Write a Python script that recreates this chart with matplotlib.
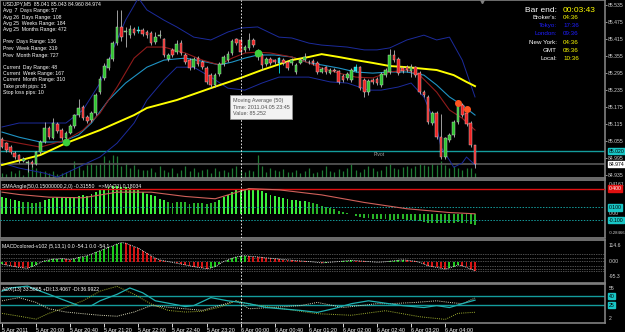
import matplotlib
matplotlib.use("Agg")
import matplotlib.pyplot as plt
import numpy as np

W, H = 625, 332

# ---- USDJPY M5, 5 Apr 2011 19:20 .. 6 Apr 04:35 ----
opens = [85.062, 85.048, 85.034, 85.013, 85.006, 84.985, 84.978, 84.981, 84.974, 85.016,
         85.052, 85.101, 85.066, 85.115, 85.094, 85.066, 85.084, 85.108, 85.147, 85.175,
         85.140, 85.129, 85.154, 85.228, 85.278, 85.313, 85.345, 85.401, 85.458, 85.440,
         85.429, 85.451, 85.444, 85.447, 85.440, 85.437, 85.405, 85.426, 85.415, 85.345,
         85.377, 85.369, 85.401, 85.359, 85.341, 85.316, 85.348, 85.334, 85.313, 85.288,
         85.253, 85.292, 85.327, 85.341, 85.366, 85.415, 85.412, 85.377, 85.384, 85.412,
         85.352, 85.359, 85.327, 85.345, 85.341, 85.348, 85.341, 85.334, 85.331, 85.299,
         85.331, 85.341, 85.334, 85.338, 85.331, 85.299, 85.316, 85.295, 85.306, 85.302,
         85.285, 85.278, 85.271, 85.302, 85.316, 85.271, 85.228, 85.271, 85.274, 85.253,
         85.288, 85.299, 85.359, 85.345, 85.313, 85.316, 85.302, 85.316, 85.295, 85.228,
         85.211, 85.119, 85.154, 85.069, 84.999, 85.059, 85.077, 85.122, 85.182, 85.154,
         85.119, 85.041]
closes = [85.034, 85.024, 85.016, 84.999, 84.988, 84.992, 84.981, 84.974, 85.016, 85.052,
          85.101, 85.069, 85.119, 85.091, 85.066, 85.084, 85.108, 85.147, 85.172, 85.136,
          85.126, 85.154, 85.218, 85.274, 85.320, 85.345, 85.401, 85.458, 85.422, 85.444,
          85.451, 85.437, 85.447, 85.433, 85.429, 85.401, 85.422, 85.429, 85.359, 85.359,
          85.359, 85.398, 85.366, 85.334, 85.313, 85.345, 85.327, 85.316, 85.264, 85.253,
          85.288, 85.327, 85.352, 85.362, 85.408, 85.401, 85.369, 85.387, 85.412, 85.394,
          85.369, 85.324, 85.345, 85.331, 85.334, 85.331, 85.331, 85.313, 85.341, 85.324,
          85.341, 85.352, 85.334, 85.331, 85.299, 85.309, 85.299, 85.306, 85.304, 85.264,
          85.271, 85.292, 85.306, 85.316, 85.242, 85.228, 85.267, 85.264, 85.260, 85.292,
          85.306, 85.359, 85.341, 85.295, 85.302, 85.306, 85.316, 85.288, 85.228, 85.218,
          85.122, 85.154, 85.069, 84.999, 85.066, 85.077, 85.122, 85.182, 85.147, 85.115,
          85.041, 84.974]
highs = [85.070, 85.052, 85.040, 85.020, 85.010, 85.000, 84.990, 84.988, 85.020, 85.058,
         85.122, 85.108, 85.136, 85.122, 85.101, 85.090, 85.115, 85.152, 85.204, 85.182,
         85.147, 85.160, 85.225, 85.285, 85.330, 85.352, 85.410, 85.518, 85.518, 85.458,
         85.465, 85.458, 85.460, 85.455, 85.447, 85.444, 85.440, 85.447, 85.420, 85.365,
         85.384, 85.412, 85.412, 85.365, 85.348, 85.352, 85.355, 85.341, 85.320, 85.295,
         85.295, 85.334, 85.359, 85.373, 85.415, 85.420, 85.418, 85.394, 85.437, 85.420,
         85.380, 85.366, 85.352, 85.352, 85.345, 85.352, 85.348, 85.341, 85.348, 85.331,
         85.348, 85.366, 85.341, 85.345, 85.338, 85.316, 85.320, 85.313, 85.313, 85.306,
         85.292, 85.299, 85.313, 85.327, 85.320, 85.278, 85.274, 85.278, 85.281, 85.299,
         85.313, 85.380, 85.377, 85.352, 85.320, 85.324, 85.327, 85.320, 85.302, 85.235,
         85.218, 85.160, 85.160, 85.150, 85.070, 85.084, 85.129, 85.200, 85.190, 85.160,
         85.126, 85.043]
lows = [85.030, 85.018, 85.008, 84.992, 84.978, 84.980, 84.946, 84.965, 84.970, 85.010,
        85.048, 85.062, 85.062, 85.084, 85.059, 85.060, 85.080, 85.101, 85.140, 85.129,
        85.119, 85.122, 85.147, 85.221, 85.270, 85.306, 85.338, 85.394, 85.410, 85.387,
        85.420, 85.430, 85.437, 85.425, 85.420, 85.394, 85.398, 85.418, 85.352, 85.338,
        85.352, 85.362, 85.359, 85.327, 85.306, 85.309, 85.320, 85.309, 85.256, 85.242,
        85.246, 85.285, 85.320, 85.334, 85.359, 85.394, 85.362, 85.369, 85.377, 85.387,
        85.341, 85.306, 85.320, 85.324, 85.327, 85.295, 85.324, 85.306, 85.324, 85.292,
        85.327, 85.338, 85.327, 85.324, 85.292, 85.295, 85.292, 85.292, 85.299, 85.256,
        85.264, 85.271, 85.264, 85.299, 85.235, 85.211, 85.218, 85.256, 85.253, 85.246,
        85.281, 85.292, 85.334, 85.288, 85.295, 85.299, 85.280, 85.281, 85.221, 85.211,
        85.115, 85.112, 85.062, 84.992, 84.992, 85.052, 85.070, 85.115, 85.140, 85.108,
        85.034, 84.960]
# tick volume (relative)
volumes = [5, 4, 7, 5, 8, 3, 10, 13, 10, 7, 7, 5, 7, 4, 5, 6, 8, 17, 12, 8,
           13, 15, 13, 15, 22, 18, 23, 22, 12, 15, 10, 13, 9, 8,
           8, 10, 6, 12, 8, 6, 10, 5, 8, 12, 7, 10, 6, 8, 9, 5,
           10, 7, 8, 6, 10, 12, 8, 6, 8, 7, 23, 12, 6, 10, 8, 7, 9, 6,
           6, 8, 5, 7, 10, 5, 6, 8, 12, 7, 6, 9, 7, 10, 14, 8, 6, 9,
           12, 10, 7, 8, 12, 14, 10, 9, 11, 12, 10, 12, 14, 13, 12, 15,
           13, 17, 13, 10, 12, 10, 8, 10, 10, 5]
cyan_bars = [32, 65, 83]

# moving averages / bands, read at sample bars
ma50_x = [0, 9, 15, 23, 31, 34, 41, 49, 56, 61, 68, 72, 75, 79, 83, 87, 91, 95, 102, 106, 109, 111]
ma50_y = [84.971, 85.006, 85.048, 85.094, 85.147, 85.172, 85.200, 85.242, 85.278, 85.306, 85.341,
          85.352, 85.362, 85.352, 85.341, 85.331, 85.320, 85.316, 85.306, 85.288, 85.264, 85.249]
ma21_x = [0, 4, 9, 14, 18, 21, 25, 29, 34, 38, 43, 48, 51, 54, 57, 60, 64, 68, 72, 75, 79, 83,
          87, 91, 95, 99, 102, 105, 108, 111]
ma21_y = [85.087, 85.069, 85.052, 85.052, 85.077, 85.119, 85.200, 85.260, 85.316, 85.341, 85.348,
          85.334, 85.324, 85.334, 85.348, 85.359, 85.359, 85.352, 85.331, 85.324, 85.313, 85.299,
          85.295, 85.299, 85.299, 85.288, 85.253, 85.211, 85.182, 85.147]
ma10_x = [0, 9, 15, 19, 23, 27, 31, 34, 38, 43, 47, 51, 54, 57, 60, 63, 68, 72, 75, 79, 83, 87,
          91, 95, 98, 102, 105, 108, 111]
ma10_y = [85.059, 85.034, 85.059, 85.094, 85.154, 85.246, 85.348, 85.387, 85.387, 85.366, 85.341,
          85.324, 85.348, 85.366, 85.369, 85.366, 85.352, 85.331, 85.313, 85.295, 85.281, 85.278,
          85.299, 85.306, 85.288, 85.228, 85.165, 85.136, 85.094]
bb_up_x = [0, 4, 10, 15, 19, 23, 26, 29, 32, 34, 38, 41, 45, 49, 53, 56, 60, 65, 68, 72, 75, 81,
           85, 88, 91, 95, 99, 102, 105, 108, 111]
bb_up_y = [85.105, 85.119, 85.119, 85.119, 85.165, 85.260, 85.377, 85.482, 85.560, 85.518, 85.482,
           85.458, 85.422, 85.412, 85.440, 85.454, 85.458, 85.422, 85.419, 85.401, 85.394, 85.387,
           85.377, 85.377, 85.384, 85.412, 85.429, 85.412, 85.422, 85.341, 85.211]
bb_lo_x = [0, 4, 10, 13, 15, 20, 23, 27, 31, 34, 38, 41, 45, 49, 53, 57, 61, 65, 68, 72, 77, 81,
           86, 89, 93, 96, 99, 102, 103, 105, 106, 108, 109, 111]
bb_lo_y = [84.978, 84.960, 84.942, 84.928, 84.942, 84.978, 84.999, 85.048, 85.119, 85.200, 85.271,
           85.316, 85.316, 85.281, 85.242, 85.235, 85.260, 85.281, 85.281, 85.281, 85.264, 85.260,
           85.235, 85.235, 85.246, 85.260, 85.211, 85.105, 85.034, 84.988, 84.963, 84.978, 84.999,
           84.971]
pivot = 85.020
bid = 84.974
green_dots = [(15, 85.052), (60, 85.366)]
orange_dots = [(107, 85.190), (109, 85.168)]
price_ticks = [85.535, 85.475, 85.415, 85.355, 85.295, 85.235, 85.175, 85.115, 85.055, 84.995, 84.935]

# SMAAngle histogram and its MA(21)
angle = [0.264, 0.253, 0.237, 0.211, 0.200, 0.184, 0.184, 0.169, 0.174, 0.184,
         0.211, 0.237, 0.253, 0.264, 0.264, 0.253, 0.248, 0.264, 0.290, 0.301,
         0.290, 0.317, 0.343, 0.370, 0.396, 0.423, 0.433, 0.433, 0.423, 0.423,
         0.412, 0.396, 0.370, 0.343, 0.317, 0.306, 0.275, 0.237, 0.211, 0.184,
         0.174, 0.195, 0.184, 0.184, 0.158, 0.169, 0.174, 0.169, 0.158, 0.174,
         0.184, 0.211, 0.264, 0.306, 0.343, 0.370, 0.396, 0.396, 0.412, 0.400,
         0.380, 0.360, 0.330, 0.300, 0.280, 0.260, 0.250, 0.240, 0.220, 0.220,
         0.210, 0.200, 0.190, 0.170, 0.150, 0.130, 0.110, 0.090, 0.070, 0.050,
         0.030, 0.010, -0.010, -0.030, -0.050, -0.060, -0.070, -0.080, -0.080, -0.090,
         -0.090, -0.100, -0.100, -0.090, -0.090, -0.100, -0.100, -0.110, -0.120, -0.130,
         -0.140, -0.140, -0.150, -0.150, -0.150, -0.140, -0.140, -0.130, -0.140, -0.150,
         -0.160, -0.170]
angle_ma_x = [0, 4, 11, 19, 27, 35, 43, 50, 58, 65, 75, 85, 95, 105, 111]
angle_ma_y = [0.343, 0.306, 0.264, 0.254, 0.343, 0.343, 0.275, 0.238, 0.400, 0.380, 0.300, 0.180,
              0.080, 0.020, 0.000]

# MACD (5,13,1)
macd = [-15, -20, -25, -30, -35, -38, -40, -30, -20, -5,
        5, 10, 15, 15, 18, 15, 12, 18, 25, 30,
        35, 45, 55, 65, 75, 85, 95, 105, 114, 110,
        100, 90, 80, 65, 50, 35, 20, 10, 5, 0,
        -5, -10, -15, -20, -25, -30, -35, -38, -42, -38,
        -30, -15, 0, 10, 20, 28, 32, 35, 32, 30,
        28, 25, 22, 20, 18, 15, 12, 10, 8, 6,
        4, 2, 0, -2, -5, -8, -6, -4, -2, 0,
        3, 5, 8, 6, 4, 2, 0, -2, -4, -3,
        -1, 2, 5, 8, 10, 8, 5, 2, -5, -15,
        -25, -30, -35, -40, -45, -38, -30, -20, -25, -35,
        -45, -54.1]
macd_levels = [48, 24, 6, -24, -42, -54]

# ADX(13) with +DI / -DI, read at sample bars
adx_x = [0, 2, 6, 7, 11, 15, 18, 21, 23, 27, 30, 33, 36, 40, 43, 45, 49, 53, 56, 58, 62, 70, 74,
         78, 82, 86, 94, 99, 102, 105, 108, 111]
adx_y = [48.6, 53.9, 57.0, 53.9, 43.3, 32.5, 24.5, 24.5, 32.5, 43.3, 53.9, 45.9, 32.5, 27.2, 22.9,
         24.5, 37.8, 32.5, 29.8, 27.7, 21.3, 16.5, 13.2, 19.7, 27.7, 32.5, 24.5, 21.3, 24.5, 21.3,
         27.7, 33.6]
pdi_x = [0, 5, 8, 11, 15, 19, 23, 27, 31, 35, 39, 43, 47, 51, 55, 58, 66, 74, 82, 90, 98, 104,
         107, 111]
pdi_y = [11.6, 5.7, 2.0, 11.6, 21.8, 32.5, 48.6, 56.6, 43.3, 27.2, 16.5, 13.8, 15.0, 21.8, 32.5,
         27.2, 19.2, 11.0, 8.4, 16.0, 6.0, 1.5, 11.6, 13.4]
mdi_x = [0, 4, 8, 11, 15, 19, 23, 27, 31, 35, 39, 43, 47, 51, 55, 58, 63, 70, 74, 80, 88, 91, 97,
         102, 105, 108, 111]
mdi_y = [32.5, 37.8, 29.8, 19.2, 13.8, 11.0, 8.4, 6.8, 13.8, 24.5, 21.8, 19.2, 16.5, 24.5, 32.5,
         19.2, 21.3, 24.5, 29.8, 21.3, 27.7, 27.7, 29.8, 32.5, 29.8, 27.7, 37.0]
adx_levels = [40, 25]

time_bars = [0, 8, 16, 24, 32, 40, 48, 56, 64, 72, 80, 88, 96, 104]
time_labels = ["5 Apr 2011", "5 Apr 20:00", "5 Apr 20:40", "5 Apr 21:20", "5 Apr 22:00",
               "5 Apr 22:40", "5 Apr 23:20", "6 Apr 00:00", "6 Apr 00:40", "6 Apr 01:20",
               "6 Apr 02:00", "6 Apr 02:40", "6 Apr 03:20", "6 Apr 04:00"]
cursor_bar = 56

plt.rcParams["font.family"] = ["Liberation Sans", "DejaVu Sans"]
GREY = "#808080"
FS = 3.7


def frac(x0, y0, x1, y1):
    return [x0 / W, 1 - y1 / H, (x1 - x0) / W, (y1 - y0) / H]


def ptext(x, y, s, **kw):
    kw.setdefault("fontsize", FS)
    kw.setdefault("color", "white")
    kw.setdefault("va", "center")
    fig.text(x / W, 1 - y / H, s, **kw)


def style(a):
    a.set_facecolor("black")
    for sp in a.spines.values():
        sp.set_color(GREY)
        sp.set_linewidth(1.2)
    a.yaxis.tick_right()
    a.tick_params(axis="y", colors="#d0d0d0", labelsize=FS, length=1.5, width=0.5, pad=0.8)
    a.tick_params(axis="x", bottom=False, labelbottom=False)
    a.set_xlim(-0.47, 141.5)


def side(a, y, s, yaxis=True, **kw):
    tr = a.get_yaxis_transform() if yaxis else a.transAxes
    kw.setdefault("va", "center")
    kw.setdefault("fontsize", FS)
    a.text(1.006, y, s, transform=tr, color="#d0d0d0", ha="left", **kw)


def right_box(a, y, s, fc, tc="black"):
    a.text(1.006, y, s, transform=a.get_yaxis_transform(), fontsize=FS, color=tc,
           va="center", ha="left", bbox=dict(boxstyle="square,pad=0.12", fc=fc, ec=fc))


fig = plt.figure(figsize=(W / 100, H / 100), dpi=100, facecolor="black")
ax = fig.add_axes(frac(0, 0, 605, 178))
ax_sma = fig.add_axes(frac(0, 179.5, 605, 237.5))
ax_macd = fig.add_axes(frac(0, 239.5, 605, 282.5))
ax_adx = fig.add_axes(frac(0, 284, 605, 323))
for a in (ax, ax_sma, ax_macd, ax_adx):
    style(a)

# ---- main price panel ----
x = np.arange(len(closes))
o = np.array(opens)
c = np.array(closes)
ax.set_ylim(84.925, 85.553)
ax.set_yticks(price_ticks)
ax.set_yticklabels(["%.3f" % p for p in price_ticks])

ax.vlines(x, 0, np.array(volumes) / 178.0, transform=ax.get_xaxis_transform(),
          color="#1f7a34", lw=0.9, zorder=1)
ax.axhline(pivot, color="#149c9c", lw=1.0, zorder=2)
ax.axhline(bid, color="#5a5a5a", lw=1.2, zorder=2)
ax.text(88.5, pivot - 0.004, "Pivot", color="#a0a0a0", fontsize=3.6, va="top", ha="center")

ax.plot(bb_up_x, bb_up_y, color="#1c2b9c", lw=0.7, zorder=3)
ax.plot(bb_lo_x, bb_lo_y, color="#1c2b9c", lw=0.7, zorder=3)
ax.plot(ma21_x, ma21_y, color="#1f93c4", lw=0.8, zorder=3)
ax.plot(ma10_x, ma10_y, color="#8f1b1b", lw=0.8, zorder=3)
ax.plot(ma50_x, ma50_y, color="#ffff00", lw=1.4, zorder=4)

wick_col = ["#00e5e5" if i in cyan_bars else "#b8b8b8" for i in x]
ax.vlines(x, lows, highs, color=wick_col, lw=0.6, zorder=5)
up = c >= o
body_h = np.maximum(np.abs(c - o), 0.0015)
body_col = np.where(up, "#2dc42d", "#ee2020")
body_col = ["#00e5e5" if i in cyan_bars else body_col[i] for i in x]
ax.bar(x, body_h, bottom=np.minimum(o, c), width=0.62, color=body_col,
       edgecolor="#d8d8d8", linewidth=0.3, zorder=6)

for bx, by in green_dots:
    ax.plot(bx, by, "o", ms=4.5, color="#3ccf3c", zorder=7)
for bx, by in orange_dots:
    ax.plot(bx, by, "o", ms=4.0, color="#ff5520", zorder=7)
ax.plot(112.7, 85.548, "v", ms=3, color=GREY, zorder=7)

right_box(ax, pivot, "%.3f" % pivot, "#19c6c6")
right_box(ax, bid, "%.3f" % bid, "white")

# ---- SMAAngle panel ----
ax_sma.set_ylim(-0.376, 0.544)
ax_sma.set_yticks([])
ang = np.array(angle)
sma_col = np.where(ang >= 0.2, "#3cf03c", "#28b428")
ax_sma.bar(x, ang, width=0.45, color=sma_col, zorder=2)
ax_sma.axhline(0.4, color="#e01010", lw=1.0, zorder=3)
ax_sma.axhline(0.1, color="#149c9c", lw=0.7, ls=(0, (1.5, 1.5)), zorder=3)
ax_sma.axhline(-0.1, color="#149c9c", lw=0.7, ls=(0, (1.5, 1.5)), zorder=3)
ax_sma.plot(angle_ma_x, angle_ma_y, color="#d0605a", lw=0.8, zorder=4)
ax_sma.text(0.004, 0.92, "SMAAngle(50,0.15000000,2,0) -0.31550   =>MA(21) 0.18034",
            transform=ax_sma.transAxes, color="white", fontsize=FS, va="top")
side(ax_sma, 0.96, "0.4161", yaxis=False, va="top")
side(ax_sma, 0.0, "0.00")
side(ax_sma, 0.05, "-0.28466", yaxis=False, va="bottom", fontsize=3.1)
right_box(ax_sma, 0.4, "0.400", "#e01010", "white")
right_box(ax_sma, 0.1, "0.100", "#19c6c6")
right_box(ax_sma, -0.1, "-0.100", "#19c6c6")

# ---- MACD panel ----
ax_macd.set_ylim(-125, 132)
ax_macd.set_yticks([])
m = np.array(macd)
rising = np.diff(np.concatenate([[m[0]], m])) >= 0
ax_macd.bar(x, m, width=0.45, color=np.where(rising, "#1ec81e", "#d41414"), zorder=2)
for lv in macd_levels:
    ax_macd.axhline(lv, color="#9a9a9a", lw=0.5, ls=(0, (1, 1.5)), zorder=1)
ax_macd.plot(x, m, color="white", lw=0.6, ls=(0, (1, 1.2)), zorder=3)
ax_macd.text(0.004, 0.9, "MACDcolored-v102 (5,13,1) 0.0 -54.1 0.0 -54.1",
             transform=ax_macd.transAxes, color="white", fontsize=FS, va="top")
side(ax_macd, 0.93, "114.6", yaxis=False, va="top")
side(ax_macd, 0.08, "-95.3", yaxis=False, va="bottom")
side(ax_macd, 0, "0.00")

# ---- ADX panel ----
ax_adx.set_ylim(-4.5, 60.5)
ax_adx.set_yticks([])
for lv in adx_levels:
    ax_adx.axhline(lv, color="#149c9c", lw=1.0, zorder=1)
    right_box(ax_adx, lv, str(lv), "#19c6c6")
ax_adx.plot(pdi_x, pdi_y, color="#a0b030", lw=0.7, ls=(0, (1, 1.2)), zorder=2)
ax_adx.plot(mdi_x, mdi_y, color="#d8d8b8", lw=0.7, ls=(0, (1, 1.2)), zorder=2)
ax_adx.plot(adx_x, adx_y, color="#1fb0b0", lw=0.9, zorder=3)
ax_adx.text(0.004, 0.93, "ADX(13) 33.5865 +DI:13.4067 -DI:36.9922",
            transform=ax_adx.transAxes, color="white", fontsize=FS, va="top")
side(ax_adx, 0.95, "55", yaxis=False, va="top")
side(ax_adx, 0.05, "2", yaxis=False, va="bottom")
ax_adx.set_xticks(time_bars)
ax_adx.set_xticklabels(time_labels)
ax_adx.tick_params(axis="x", bottom=True, labelbottom=True, colors="white", labelsize=3.9,
                   length=3, width=0.6, pad=0.5)
for lbl in ax_adx.get_xticklabels():
    lbl.set_horizontalalignment("left")

# crosshair cursor
for a in (ax, ax_sma, ax_macd, ax_adx):
    a.axvline(cursor_bar, color="white", lw=0.6, ls=(0, (2, 2)), zorder=8)

# ---- text overlays ----
ptext(3, 4, "USDJPY,M5  85.041 85.043 84.960 84.974")
info = [(10.5, "Avg  7  Days Range: 57"), (17, "Avg 26  Days Range: 108"),
        (23.5, "Avg 25  Weeks Range: 184"), (30, "Avg 25  Months Range: 472"),
        (42, "Prev  Days Range: 136"), (48.5, "Prev  Week Range: 319"),
        (55, "Prev  Month Range: 727"), (67, "Current  Day Range: 48"),
        (73.5, "Current  Week Range: 167"), (80, "Current  Month Range: 310"),
        (86.5, "Take profit pips: 15"), (93, "Stop loss pips: 10")]
for yy, s in info:
    ptext(3, yy, s)

clock = [(10, "Bar end:", "00:03:43", "white", "#ffff00", 6.0),
         (17.5, "Broker's:", "04:36", "white", "#ffff00", 4.5),
         (25.5, "Tokyo:", "17:36", "#1e1eff", "#1e1eff", 4.5),
         (33.5, "London:", "09:36", "#1e1eff", "#1e1eff", 4.5),
         (42, "New York:", "04:36", "white", "#ffff00", 4.5),
         (50, "GMT", "08:36", "white", "#ffff00", 4.5),
         (58, "Local:", "10:36", "white", "#ffff00", 4.5)]
for yy, lab, val, lc, vc, fs in clock:
    ptext(557, yy, lab, color=lc, fontsize=fs, ha="right")
    ptext(563, yy, val, color=vc, fontsize=fs, ha="left")

fig.text(233 / W, 1 - 98 / H, "Moving Average (50)\nTime: 2011.04.05 23:45\nValue: 85.252",
         fontsize=3.9, color="#505050", va="top", ha="left", linespacing=1.4,
         bbox=dict(boxstyle="square,pad=0.5", fc="#f2f2f2", ec="#9a9a9a", lw=0.5), zorder=10)

fig.savefig("out.png", dpi=100, facecolor="black")
